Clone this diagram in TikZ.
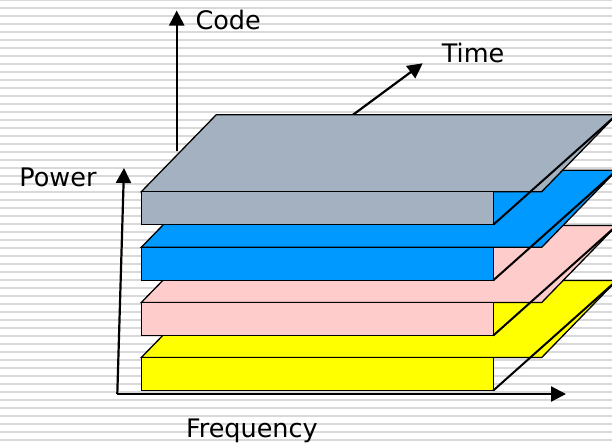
\documentclass[tikz,border=0pt]{standalone}
\usepackage{fontspec}
\setmainfont{DejaVu Sans}
\usetikzlibrary{arrows.meta}

\definecolor{stripegray}{RGB}{217,217,217}
\definecolor{slabgray}{RGB}{163,177,192}
\definecolor{slabblue}{RGB}{0,153,255}
\definecolor{slabpink}{RGB}{255,204,204}
\definecolor{slabyellow}{RGB}{255,255,0}

\tikzset{
  axis/.style={line width=2.2pt, -{Triangle[length=15pt,width=15pt]}},
  face/.style={draw=black, line width=1.3pt, line join=miter},
  edge/.style={draw=black, line width=2pt},
  axislabel/.style={inner sep=0pt, anchor=base west,
    font=\fontsize{25.5}{30}\selectfont},
}

% one layer: top face, front face and the diagonal side edge
\newcommand{\drawlayer}[2]{%
  \fill[#2] (141.3,#1) -- (216.3,#1-77) -- (616.7,#1-77) -- (541.7,#1) -- cycle;
  \draw[face] (141.3,#1) -- (216.3,#1-77) -- (616.7,#1-77) -- (541.7,#1) -- cycle;
  \filldraw[face, fill=#2] (141.3,#1) rectangle (493.3,#1+33);
  \draw[edge] (493.3,#1+33) -- (616.7,#1-77);
}

\begin{document}
\begin{tikzpicture}[x=1pt, y=-1pt]
  \useasboundingbox (0,0) rectangle (612,445);
  \clip (0,0) rectangle (612,445);

  % striped background
  \fill[white] (0,0) rectangle (612,445);
  \foreach \k in {0,...,56}
    \fill[stripegray] (0,{8*\k-1.5}) rectangle (612,{8*\k+0.5});

  % axis end points
  \coordinate (codeBase) at (176.7,151);
  \coordinate (codeTip)  at (176.7,10.5);
  \coordinate (timeBase) at (352.3,115.3);
  \coordinate (timeTip)  at (422.7,63.3);
  \coordinate (origin)   at (117.3,394);
  \coordinate (powerTip) at (124,168);
  \coordinate (freqTip)  at (566,394);

  % axes
  \draw[axis] (codeBase) -- (codeTip);
  \draw[axis] (timeBase) -- (timeTip);
  \draw[axis] (origin) -- (powerTip);
  \draw[axis] (origin) -- (freqTip);

  % layers, back to front
  \drawlayer{357.5}{slabyellow}
  \drawlayer{302.5}{slabpink}
  \drawlayer{247.3}{slabblue}
  \drawlayer{191.7}{slabgray}

  % labels
  \node[axislabel] (codeLabel)  at (195.3,29)  {Code};
  \node[axislabel] (timeLabel)  at (441.7,62)  {Time};
  \node[axislabel] (powerLabel) at (19.2,186.7) {Power};
  \node[axislabel] (freqLabel)  at (185.8,437) {Frequency};
\end{tikzpicture}
\end{document}
